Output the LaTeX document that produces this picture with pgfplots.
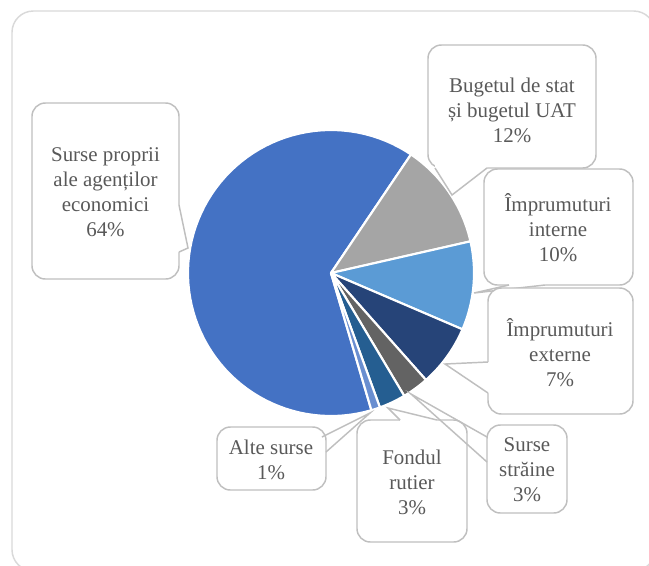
\documentclass[border=0pt]{standalone}
\usepackage{fontspec}
\setmainfont{Liberation Serif}
\usepackage{pgfplots}
\pgfplotsset{compat=1.18}
\definecolor{cP}{HTML}{4472C4}
\definecolor{cB}{HTML}{A5A5A5}
\definecolor{cI}{HTML}{5B9BD5}
\definecolor{cE}{HTML}{264478}
\definecolor{cS}{HTML}{636363}
\definecolor{cF}{HTML}{255E91}
\definecolor{cA}{HTML}{698ED0}
\definecolor{txt}{HTML}{595959}
\definecolor{brd}{HTML}{BFBFBF}
\definecolor{frm}{HTML}{D9D9D9}
% pie: centre (331,273) px, radius 143 px, slices clockwise from 286.4 deg
\def\cur{286.4}
\newcommand\slice[2]{%
  \pgfmathsetmacro\sa{\cur}%
  \pgfmathsetmacro\se{\cur-3.6*#1}%
  \edef\tmp{\noexpand\addplot[draw=white, line width=1.6pt, line join=round, fill=#2, domain=\se:\sa, samples=80, no markers]
    ({331+143*cos(x)},{273-143*sin(x)}) -- (331,273) -- cycle;}%
  \tmp
  \global\let\cur\se
}
\begin{document}
\begin{tikzpicture}
\begin{axis}[width=486.75pt, height=423.75pt,
  scale only axis, hide axis, xmin=0, xmax=649, ymin=0, ymax=565,
  y dir=reverse, clip=true, clip bounding box=upper bound]
\path (0,0) rectangle (649,565);
% outer frame
\draw[frm, line width=1.1pt, rounded corners=16pt] (12,11) rectangle (655,571);
% slices
\slice{64}{cP}
\slice{12}{cB}
\slice{10}{cI}
\slice{7}{cE}
\slice{3}{cS}
\slice{3}{cF}
\slice{1}{cA}
\tikzset{box/.style={draw=brd, fill=white, line width=1.1pt, rounded corners=10pt},
  ptr/.style={draw=brd, line width=1.1pt, line join=miter},
  lab/.style={align=center, text=txt, font=\fontsize{15.7}{18.75}\selectfont}}
% Surse proprii
\draw[box] (32,103) rectangle (179,279);
\fill[white] (172,205) -- (179,205) -- (188,248) -- (179,252) -- (172,252) -- cycle;
\draw[ptr] (179,205) -- (188,248) -- (179,252);
\node[lab] at (105.5,192) {Surse proprii\\ale agenților\\economici\\64\%};
% Bugetul
\draw[box] (428,45) rectangle (596,168);
\fill[white] (435,161) -- (435,168) -- (452,195) -- (487,168) -- (487,161) -- cycle;
\draw[ptr] (435,168) -- (452,195) -- (487,168);
\node[lab] at (512,110) {Bugetul de stat\\și bugetul UAT\\12\%};
% Interne
\draw[box] (484,169) rectangle (633,285);
\fill[white] (509,278) -- (509,285) -- (474,293) -- (545,285) -- (545,278) -- cycle;
\draw[ptr] (509,285) -- (474,293) -- (545,285);
\node[lab] at (558,228) {Împrumuturi\\interne\\10\%};
% Externe
\draw[box] (488,288) rectangle (633,414);
\fill[white] (495,362) -- (488,362) -- (445,364) -- (488,393) -- (495,393) -- cycle;
\draw[ptr] (488,362) -- (445,364) -- (488,393);
\node[lab] at (560,353) {Împrumuturi\\externe\\7\%};
% Alte surse
\draw[box] (217,427) rectangle (326,490);
\draw[ptr] (322,437) -- (370,413) -- (326,452);
\node[lab] at (271,460) {Alte surse\\1\%};
% Fondul rutier
\draw[box] (357,420) rectangle (467,542);
\fill[white] (400,426) -- (400,420) -- (388,408) -- (437,420) -- (437,426) -- cycle;
\draw[ptr] (400,420) -- (388,408) -- (437,420);
\node[lab] at (412,482) {Fondul\\rutier\\3\%};
% Surse straine
\draw[box] (487,425) rectangle (567,513);
\draw[ptr] (487,437) -- (411,394) -- (487,462);
\node[lab] at (527,470) {Surse\\străine\\3\%};
\end{axis}
\end{tikzpicture}
\end{document}
